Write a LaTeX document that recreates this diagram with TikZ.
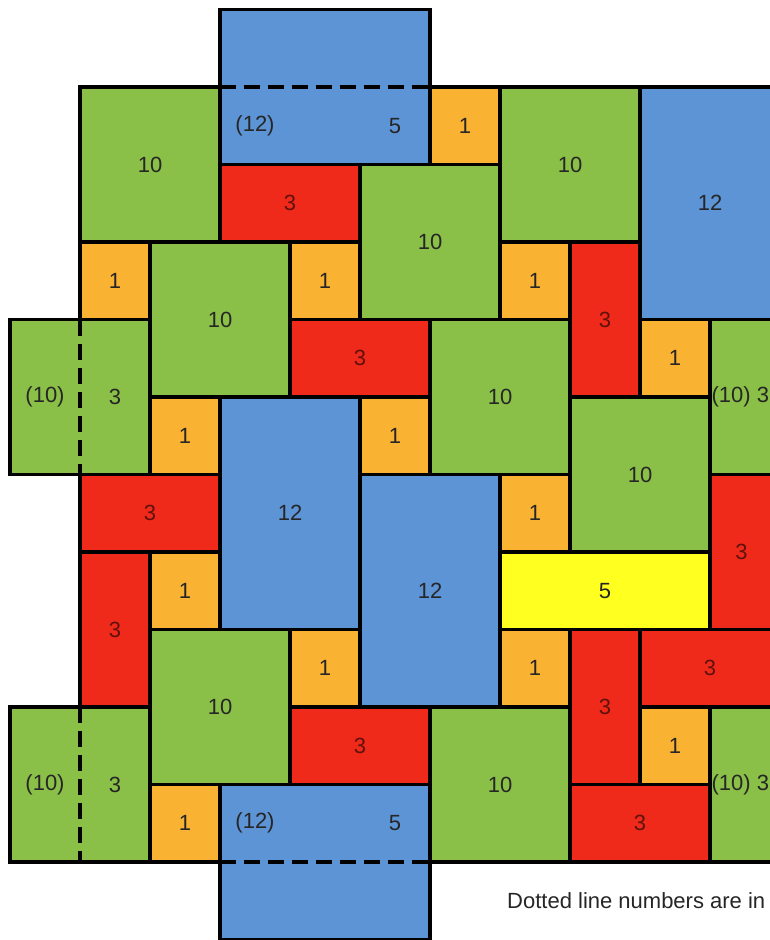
\documentclass[tikz,border=0pt]{standalone}
\usepackage{fontspec}
\setmainfont{Liberation Sans}
\usepackage{tikz}
\usepackage{xcolor}
\definecolor{tilegreen}{RGB}{139,192,72}
\definecolor{tileblue}{RGB}{92,148,214}
\definecolor{tilered}{RGB}{240,42,26}
\definecolor{tileorange}{RGB}{250,178,50}
\definecolor{tileyellow}{RGB}{255,255,32}

\begin{document}
\begin{tikzpicture}[x=70pt, y=-77.5pt,
    edge/.style={line width=3.5pt},
    gtile/.style={edge, fill=tilegreen},
    btile/.style={edge, fill=tileblue},
    rtile/.style={edge, fill=tilered},
    otile/.style={edge, fill=tileorange},
    ytile/.style={edge, fill=tileyellow},
    fold/.style={line width=3.5pt, dash pattern=on 16pt off 8pt},
    num/.style={font=\fontsize{22}{26}\selectfont, text=black!85},
    rnum/.style={num, text=tilered!40!black}]
    \useasboundingbox (-1.143,-1.123) rectangle (9.857,11.006);
    \clip (-1.143,-1.123) rectangle (9.857,11.006);

    % top band
    \filldraw[gtile] (0,0) rectangle (2,2);
    \node[num] (g1) at (1,1) {10};
    \filldraw[btile] (2,-1) rectangle (5,1);
    \draw[fold] (2,0) -- (5,0);
    \node[num] (b1a) at (2.5,0.5) {(12)};
    \node[num] (b1b) at (4.5,0.5) {5};
    \filldraw[otile] (5,0) rectangle (6,1);
    \node[num] (o1) at (5.5,0.5) {1};
    \filldraw[gtile] (6,0) rectangle (8,2);
    \node[num] (g2) at (7,1) {10};
    \filldraw[btile] (8,0) rectangle (10,3);
    \node[num] (b2) at (9,1.5) {12};
    \filldraw[rtile] (2,1) rectangle (4,2);
    \node[rnum] (r1) at (3,1.5) {3};
    \filldraw[gtile] (4,1) rectangle (6,3);
    \node[num] (g3) at (5,2) {10};

    \filldraw[otile] (0,2) rectangle (1,3);
    \node[num] (o2) at (0.5,2.5) {1};
    \filldraw[gtile] (1,2) rectangle (3,4);
    \node[num] (g4) at (2,3) {10};
    \filldraw[otile] (3,2) rectangle (4,3);
    \node[num] (o3) at (3.5,2.5) {1};
    \filldraw[otile] (6,2) rectangle (7,3);
    \node[num] (o4) at (6.5,2.5) {1};
    \filldraw[rtile] (7,2) rectangle (8,4);
    \node[rnum] (r2) at (7.5,3) {3};

    % middle
    \filldraw[gtile] (-1,3) rectangle (1,5);
    \draw[fold] (0,3) -- (0,5);
    \node[num] (g5a) at (-0.5,4) {(10)};
    \node[num] (g5b) at (0.5,4) {3};
    \filldraw[rtile] (3,3) rectangle (5,4);
    \node[rnum] (r3) at (4,3.5) {3};
    \filldraw[gtile] (5,3) rectangle (7,5);
    \node[num] (g6) at (6,4) {10};
    \filldraw[otile] (8,3) rectangle (9,4);
    \node[num] (o5) at (8.5,3.5) {1};
    \filldraw[gtile] (9,3) rectangle (11,5);
    \node[num, anchor=west, inner sep=0pt] (g7) at (9.02,4) {(10) 3};

    \filldraw[otile] (1,4) rectangle (2,5);
    \node[num] (o6) at (1.5,4.5) {1};
    \filldraw[btile] (2,4) rectangle (4,7);
    \node[num] (b3) at (3,5.5) {12};
    \filldraw[otile] (4,4) rectangle (5,5);
    \node[num] (o7) at (4.5,4.5) {1};
    \filldraw[gtile] (7,4) rectangle (9,6);
    \node[num] (g8) at (8,5) {10};

    \filldraw[rtile] (0,5) rectangle (2,6);
    \node[rnum] (r4) at (1,5.5) {3};
    \filldraw[btile] (4,5) rectangle (6,8);
    \node[num] (b4) at (5,6.5) {12};
    \filldraw[otile] (6,5) rectangle (7,6);
    \node[num] (o8) at (6.5,5.5) {1};
    \filldraw[rtile] (9,5) rectangle (10,7);
    \node[rnum] (r5) at (9.45,6) {3};

    \filldraw[rtile] (0,6) rectangle (1,8);
    \node[rnum] (r6) at (0.5,7) {3};
    \filldraw[otile] (1,6) rectangle (2,7);
    \node[num] (o9) at (1.5,6.5) {1};
    \filldraw[ytile] (6,6) rectangle (9,7);
    \node[num] (y1) at (7.5,6.5) {5};

    % bottom band
    \filldraw[gtile] (1,7) rectangle (3,9);
    \node[num] (g9) at (2,8) {10};
    \filldraw[otile] (3,7) rectangle (4,8);
    \node[num] (o10) at (3.5,7.5) {1};
    \filldraw[otile] (6,7) rectangle (7,8);
    \node[num] (o11) at (6.5,7.5) {1};
    \filldraw[rtile] (7,7) rectangle (8,9);
    \node[rnum] (r7) at (7.5,8) {3};
    \filldraw[rtile] (8,7) rectangle (10,8);
    \node[rnum] (r8) at (9,7.5) {3};

    \filldraw[gtile] (-1,8) rectangle (1,10);
    \draw[fold] (0,8) -- (0,10);
    \node[num] (g10a) at (-0.5,9) {(10)};
    \node[num] (g10b) at (0.5,9) {3};
    \filldraw[rtile] (3,8) rectangle (5,9);
    \node[rnum] (r9) at (4,8.5) {3};
    \filldraw[gtile] (5,8) rectangle (7,10);
    \node[num] (g11) at (6,9) {10};
    \filldraw[otile] (8,8) rectangle (9,9);
    \node[num] (o12) at (8.5,8.5) {1};
    \filldraw[gtile] (9,8) rectangle (11,10);
    \node[num, anchor=west, inner sep=0pt] (g12) at (9.02,9) {(10) 3};

    \filldraw[otile] (1,9) rectangle (2,10);
    \node[num] (o13) at (1.5,9.5) {1};
    \filldraw[btile] (2,9) rectangle (5,11);
    \draw[fold] (2,10) -- (5,10);
    \node[num] (b5a) at (2.5,9.5) {(12)};
    \node[num] (b5b) at (4.5,9.5) {5};
    \filldraw[rtile] (7,9) rectangle (9,10);
    \node[rnum] (r10) at (8,9.5) {3};

    \node[anchor=base west, inner sep=0pt, font=\fontsize{22}{26}\selectfont, text=black!85]
        (note) at (6.1,10.594) {Dotted line numbers are in};
\end{tikzpicture}
\end{document}
